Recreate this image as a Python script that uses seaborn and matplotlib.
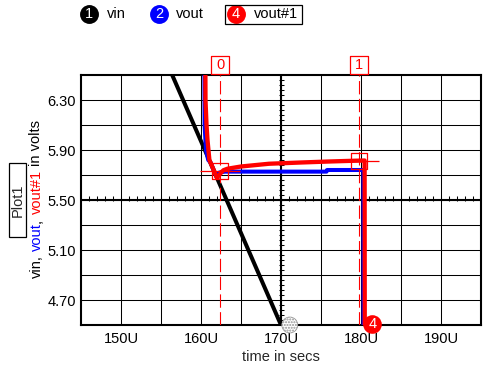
import matplotlib
matplotlib.use("Agg")
import matplotlib.pyplot as plt
import seaborn as sns
from matplotlib.patches import Rectangle
import numpy as np

# time in microseconds (U), values in volts
vin_t = [156.4, 170.0]
vin_v = [6.50, 4.50]

vout_t = [160.42, 160.45, 160.62, 160.9, 161.2, 161.9, 162.3, 163.0, 175.7, 175.75, 180.3, 180.32]
vout_v = [6.70, 6.10, 5.90, 5.82, 5.80, 5.69, 5.72, 5.727, 5.727, 5.74, 5.74, 4.30]

vout1_t = [160.54, 160.56, 160.69, 160.81, 161.05, 161.59, 162.0, 162.4, 162.8, 163.3,
           165.0, 168.5, 172.5, 176.0, 178.6, 180.45, 180.47]
vout1_v = [6.70, 6.30, 6.10, 5.98, 5.82, 5.74, 5.676, 5.71, 5.738, 5.75,
           5.768, 5.79, 5.80, 5.808, 5.813, 5.816, 4.30]

cursor_t = [162.4, 179.7]
cursor_v = [5.732, 5.815]
cursor_names = ["0", "1"]

x_major = [150, 160, 170, 180, 190]
x_labels = ["150U", "160U", "170U", "180U", "190U"]
y_major = [4.7, 5.1, 5.5, 5.9, 6.3]
y_labels = ["4.70", "5.10", "5.50", "5.90", "6.30"]

legend_names = ["vin", "vout", "vout#1"]
legend_nums = ["1", "2", "4"]
legend_colors = ["black", "#0000ff", "#ff0000"]

sns.set_style("white")
plt.rcParams["font.family"] = ["Liberation Sans", "DejaVu Sans"]
plt.rcParams["font.size"] = 10.5

fig = plt.figure(figsize=(4.98, 3.67), dpi=100)

# overlay in pixel coordinates for legend and side labels
ov = fig.add_axes([0, 0, 1, 1], zorder=0)
ov.set_xlim(0, 498)
ov.set_ylim(367, 0)
ov.axis("off")

ax = fig.add_axes([81 / 498, 42 / 367, 400 / 498, 250 / 367], zorder=1)

sns.lineplot(x=vin_t, y=vin_v, sort=False, estimator=None, color="black", linewidth=2.9, ax=ax, zorder=3)
sns.lineplot(x=vout_t, y=vout_v, sort=False, estimator=None, color="#0000ff", linewidth=2.9, ax=ax, zorder=4)
sns.lineplot(x=vout1_t, y=vout1_v, sort=False, estimator=None, color="#ff0000", linewidth=3.1, ax=ax, zorder=5)

ax.set_xlim(145, 195)
ax.set_ylim(4.5, 6.5)
ax.set_xticks(x_major)
ax.set_xticklabels(x_labels)
ax.set_xticks([155, 165, 175, 185], minor=True)
ax.set_yticks(y_major)
ax.set_yticklabels(y_labels)
ax.set_yticks([4.9, 5.3, 5.7, 6.1], minor=True)
ax.tick_params(which="both", length=0, labelsize=10.5, colors="black")
ax.tick_params(axis="x", pad=5)
ax.tick_params(axis="y", pad=3.6)
ax.grid(which="both", color="black", linewidth=0.75)
ax.set_axisbelow(True)
for sp in ax.spines.values():
    sp.set_visible(True)
    sp.set_color("black")
    sp.set_linewidth(1.5)

# center axes with small ticks
ax.axhline(5.5, color="black", linewidth=1.5, zorder=2)
ax.axvline(170, color="black", linewidth=1.5, zorder=2)
ax.vlines(np.arange(146, 195, 1), 5.49, 5.53, color="black", linewidth=0.75, zorder=2)
ax.hlines(np.arange(4.54, 6.5, 0.04), 169.8, 170.4, color="black", linewidth=0.75, zorder=2)

ax.set_xlabel("time in secs", fontsize=10.5, labelpad=3)
ax.set_ylabel("")

# cursors
for t, v, name in zip(cursor_t, cursor_v, cursor_names):
    ax.axvline(t, color="#ff0000", linewidth=0.8, dashes=(12, 4), zorder=6)
    ax.scatter([t], [6.58], marker="s", s=156, facecolor="white", edgecolor="#ff0000",
               linewidths=0.9, clip_on=False, zorder=7)
    ax.text(t, 6.58, name, color="#ff0000", ha="center", va="center", fontsize=10.5,
            clip_on=False, zorder=8)
    ax.scatter([t], [v], marker="s", s=132, facecolor="none", edgecolor="#ff0000",
               linewidths=0.9, zorder=7)
    ax.hlines(v, t - 2.5, t + 2.5, color="#ff0000", linewidth=0.9, zorder=6)

# markers at bottom
ax.scatter([171.1], [4.5], marker="o", s=132, facecolor="white", edgecolor="#909090",
           hatch="......", linewidths=0.5, clip_on=False, zorder=9)
ax.scatter([181.4], [4.512], marker="o", s=180, color="#ff0000", linewidths=0,
           clip_on=False, zorder=9)
ax.text(181.4, 4.512, "4", color="white", ha="center", va="center", fontsize=10.5,
        clip_on=False, zorder=10)

# legend at top
leg_cx = [89, 159, 236]
leg_tx = [107, 176, 254]
for cx, tx, num, name, col in zip(leg_cx, leg_tx, legend_nums, legend_names, legend_colors):
    ov.scatter([cx], [14], s=185, color=col, linewidths=0)
    ov.text(cx, 14.5, num, color="white", ha="center", va="center", fontsize=10.5)
    ov.text(tx, 14.5, name, color="black", ha="left", va="center", fontsize=10.5)
ov.add_patch(Rectangle((225, 4.5), 77, 19.5, fill=False, edgecolor="black", linewidth=0.9))

# Plot1 box
ov.add_patch(Rectangle((9, 163), 17, 74, fill=False, edgecolor="black", linewidth=0.9))
ov.text(17.8, 200, "Plot1", rotation=90, ha="center", va="center", fontsize=10.5)

# multicolor y label
pieces = [("vin,", "black", 0), ("vout", "#0000ff", 3), (",", "black", 0.4),
          ("vout#1", "#ff0000", 3), ("in volts", "black", 3)]
prev = ov.text(36.5, 278, pieces[0][0], rotation=90, ha="center", va="bottom",
               color=pieces[0][1], fontsize=10.5)
for txt, col, gap in pieces[1:]:
    prev = ov.annotate(txt, xy=(0.5, 1), xycoords=prev, xytext=(0, gap),
                       textcoords="offset points", rotation=90, ha="center",
                       va="bottom", color=col, fontsize=10.5)

fig.savefig("out.png", dpi=100)
